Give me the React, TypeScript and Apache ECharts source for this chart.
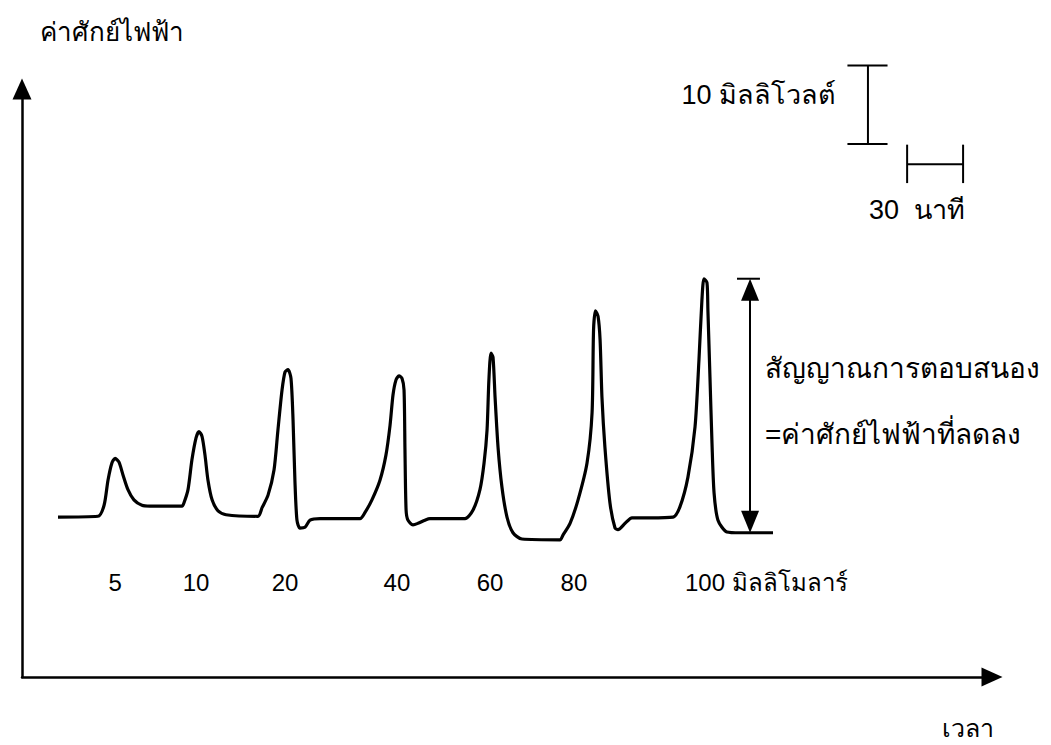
import { useEffect, useRef } from "react";
import * as echarts from "echarts";

// Recorded potentiometric trace: time in minutes, potential in millivolts.
const traceTime = [
  19.3, 40.7, 44.0, 46.1, 48.2, 49.9, 52.0, 54.1, 56.8, 60.0, 64.3, 68.6,
  85.8, 86.8, 89.0, 91.1, 93.3, 94.9, 96.5, 98.1, 99.7, 101.9, 105.1, 109.4,
  126.5, 128.7, 131.9, 135.1, 137.2, 139.4, 141.0, 142.6, 144.2, 145.3, 146.3, 147.4, 149.0, 151.7, 154.4, 159.8,
  181.2, 183.9, 187.6, 191.9, 195.1, 197.3, 198.9, 200.5, 202.1, 203.7, 204.8, 205.3, 205.9, 206.9, 209.6, 212.3, 216.0, 218.7,
  237.5, 241.8, 245.5, 247.7, 249.3, 250.3, 251.4, 252.5, 253.6, 255.2, 257.3, 260.0, 263.2, 268.0, 288.4,
  290.0, 293.8, 298.1, 302.9, 305.6, 306.4, 307.4, 308.8, 309.9, 310.9, 312.5, 315.2, 317.9, 319.5, 323.3, 327.0, 336.7,
  349.0, 352.7, 357.0, 360.8, 362.9, 364.5, 365.6, 367.2, 367.7, 368.8, 369.9, 371.0, 373.1, 377.9, 384.9, 402.6,
];
const traceMv = [
  20.4, 20.5, 21.9, 25.1, 27.3, 27.9, 27.4, 25.8, 23.9, 22.6, 21.9, 21.8,
  21.8, 22.2, 23.9, 27.7, 30.5, 31.3, 30.7, 28.3, 25.1, 22.6, 21.2, 20.7,
  20.5, 21.6, 23.2, 26.4, 31.5, 36.6, 38.9, 39.2, 38.1, 32.8, 25.1, 20.0, 19.0, 19.1, 20.0, 20.2,
  20.2, 21.0, 22.6, 25.1, 28.3, 32.1, 36.0, 37.9, 38.4, 38.1, 36.6, 29.0, 21.3, 20.0, 19.4, 19.6, 20.0, 20.2,
  20.2, 21.3, 23.9, 27.3, 31.5, 37.9, 41.3, 40.8, 35.7, 29.3, 24.2, 20.4, 18.4, 17.6, 17.5,
  18.1, 19.6, 22.6, 27.3, 33.7, 44.3, 46.7, 46.0, 43.0, 35.7, 29.3, 22.2, 19.0, 18.8, 19.6, 20.3, 20.3,
  20.4, 21.7, 25.5, 31.9, 40.4, 48.1, 50.8, 50.3, 46.8, 38.3, 29.8, 23.5, 20.0, 18.5, 18.4, 18.4,
];

// Concentration of each injection, written under its peak.
const concLabels = ["5", "10", "20", "40", "60", "80", "100 มิลลิโมลาร์"];
const concLabelTime = [49.9, 93.3, 141.0, 201.0, 250.9, 295.9, 355.4];
const concLabelMv = 12;

// Response of the last peak: baseline to top.
const responseTime = 390.3;
const responseBase = 18.4;
const responseTop = 50.8;
const responseCap = [383.3, 395.6];
const arrowHeadMv = 1.4; // half the arrowhead length, in mV

// Scale bars: 10 mV (vertical) and 30 min (horizontal).
const mvBarTime = 453.5;
const mvBar = [68, 78];
const mvBarCap = [442.5, 464.0];
const minBar = [474.5, 504.5];
const minBarMv = 65.4;
const minBarTick = [63.0, 67.9];

const FONT = "'Liberation Sans', Arial, 'DejaVu Sans', sans-serif";

function seg(a: number[], b: number[]) {
  return {
    type: "line",
    data: [a, b],
    symbol: "none",
    clip: false,
    silent: true,
    lineStyle: { color: "#000", width: 2 },
    z: 3,
  };
}

function label(text: string, x: number, y: number, size: number, align = "left") {
  return {
    type: "text",
    x,
    y,
    style: { text, fontSize: size, fontFamily: FONT, fill: "#000", align, verticalAlign: "middle" },
  };
}

export default function App() {
  const ref = useRef<HTMLDivElement>(null);

  useEffect(() => {
    document.body.style.margin = "0";
    if (!ref.current) return;
    const chart = echarts.init(ref.current, null, { renderer: "svg" });

    const axisCommon = {
      type: "value",
      axisLine: {
        show: true,
        symbol: ["none", "triangle"],
        symbolSize: [19, 21],
        lineStyle: { color: "#000", width: 2.5 },
      },
      axisTick: { show: false },
      axisLabel: { show: false },
      splitLine: { show: false },
    };

    const trace = traceTime.map((t, i) => [t, traceMv[i]]);
    const last = concLabels.length - 1;

    chart.setOption({
      animation: false,
      backgroundColor: "#ffffff",
      grid: { left: 22, top: 89, width: 970, height: 588 },
      xAxis: { ...axisCommon, min: 0, max: 520 },
      yAxis: { ...axisCommon, min: 0, max: 75 },
      series: [
        {
          type: "line",
          data: trace,
          symbol: "none",
          smooth: 0.25,
          lineStyle: { color: "#000", width: 3.2 },
          z: 4,
          markLine: {
            silent: true,
            symbol: ["triangle", "triangle"],
            symbolSize: [18, 22],
            label: { show: false },
            lineStyle: { color: "#000", width: 2, type: "solid" },
            data: [
              [
                { coord: [responseTime, responseBase + arrowHeadMv] },
                { coord: [responseTime, responseTop - arrowHeadMv] },
              ],
            ],
          },
        },
        seg([responseCap[0], responseTop], [responseCap[1], responseTop]),
        seg([mvBarTime, mvBar[0]], [mvBarTime, mvBar[1]]),
        seg([mvBarCap[0], mvBar[0]], [mvBarCap[1], mvBar[0]]),
        seg([mvBarCap[0], mvBar[1]], [mvBarCap[1], mvBar[1]]),
        seg([minBar[0], minBarMv], [minBar[1], minBarMv]),
        seg([minBar[0], minBarTick[0]], [minBar[0], minBarTick[1]]),
        seg([minBar[1], minBarTick[0]], [minBar[1], minBarTick[1]]),
        {
          type: "scatter",
          symbolSize: 0,
          silent: true,
          itemStyle: { opacity: 1, color: "#000" },
          data: concLabels.map((txt, i) => ({
            value: [concLabelTime[i], concLabelMv],
            label: {
              show: true,
              position: "inside",
              formatter: txt,
              align: i === last ? "left" : "center",
              verticalAlign: "middle",
              color: "#000",
              opacity: 1,
              textBorderWidth: 0,
              fontSize: 24,
              fontFamily: FONT,
            },
          })),
        },
      ],
      graphic: [
        label("ค่าศักย์ไฟฟ้า", 40, 32, 26),
        label("10 มิลลิโวลต์", 836, 95, 27, "right"),
        label("30  นาที", 869, 210, 27),
        label("สัญญาณการตอบสนอง", 765, 368, 28),
        label("=ค่าศักย์ไฟฟ้าที่ลดลง", 765, 434, 28),
        label("เวลา", 942, 728, 25),
      ],
    });

    return () => chart.dispose();
  }, []);

  return <div ref={ref} style={{ width: 1051, height: 745 }} />;
}
